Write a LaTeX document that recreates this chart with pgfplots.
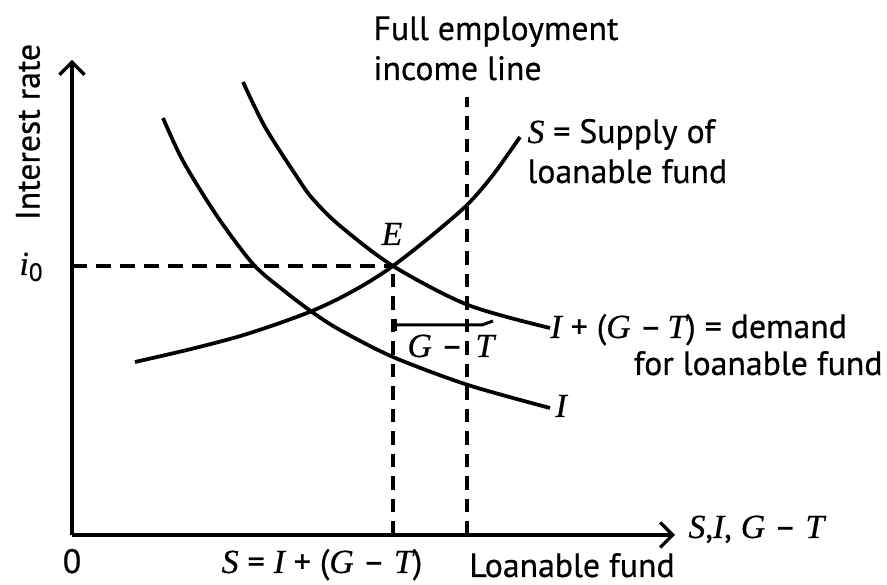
\documentclass[border=0pt]{standalone}
\usepackage{pgfplots}
\pgfplotsset{compat=1.18}
\usetikzlibrary{arrows.meta}
\usepackage{fontspec}
\setmainfont{PT Sans}[UprightFeatures={FakeBold=0.6}]
\newfontfamily\serif{Liberation Serif}[ItalicFeatures={FakeBold=0.6}]
\newcommand{\vi}[1]{{\serif\itshape #1}}
\tikzset{lbl/.style={font=\fontsize{13.5}{16}\selectfont, inner sep=0pt, text=black}}
\begin{document}
\begin{tikzpicture}
\begin{axis}[
 x=0.4pt, y=0.4pt,
 xmin=0, xmax=603, ymin=0, ymax=475,
 axis lines=left,
 axis line style={line width=1.5pt, -{Straight Barb[length=5pt,width=10pt,line width=1.3pt]}},
 xtick=\empty, ytick=\empty,
 clip=false,
]
% invisible frame for the page size
\path (axis cs:-72,-50) rectangle (axis cs:815,535);
% dashed guide lines
\addplot[line width=1.3pt, dash pattern=on 6pt off 3.6pt] coordinates {(0,269) (321,269)};
\addplot[line width=1.3pt, dash pattern=on 5.5pt off 3.5pt] coordinates {(321,0) (321,269)};
\addplot[line width=1.3pt, dash pattern=on 5.5pt off 3.5pt] coordinates {(395,0) (395,438)};
% I curve
\addplot[smooth, line width=1.5pt] coordinates {(91,417) (111,374) (145,319) (181,271) (211,245) (240,223) (268,205) (321,178) (396,150) (478,127)};
% I + (G - T) curve
\addplot[smooth, line width=1.5pt] coordinates {(171,453) (193,408) (225,358) (240,337) (267,310) (321,269) (396,230) (478,207)};
% S curve
\addplot[smooth, line width=1.5pt] coordinates {(63,173) (115,185) (165,198) (205,211) (240,224) (268,237) (295,252) (321,269) (358,298) (395,330) (421,360) (448,398)};
% G - T bracket
\addplot[line width=1.2pt] coordinates {(323,210) (410,210) (421,214)};
\addplot[line width=1.2pt] coordinates {(323,204) (323,216)};
% labels
\node[lbl, rotate=90] at (axis cs:-44,403) {Interest rate};
\node[lbl, anchor=base] at (axis cs:-41,260) {\vi{i}\raisebox{-0.35ex}{\fontsize{10}{10}\selectfont 0}};
\node[lbl, anchor=base] at (axis cs:0,-38) {0};
\node[lbl, anchor=base] at (axis cs:250,-38) {\vi{S} = \vi{I} + (\vi{G} – \vi{T})};
\node[lbl, anchor=base] at (axis cs:500,-42) {Loanable fund};
\node[lbl, anchor=base west] at (axis cs:616,-3) {\vi{S},\vi{I}, \vi{G} – \vi{T}};
\node[lbl, anchor=base west] at (axis cs:301,495) {Full employment};
\node[lbl, anchor=base west] at (axis cs:301,455) {income line};
\node[lbl, anchor=base west] at (axis cs:455,392) {\vi{S} = Supply of};
\node[lbl, anchor=base west] at (axis cs:455,352) {loanable fund};
\node[lbl, anchor=base] at (axis cs:320,290) {\vi{E}};
\node[lbl, anchor=base west] at (axis cs:478,197) {\vi{I} + (\vi{G} –\,\vi{T}) = demand};
\node[lbl, anchor=base east] at (axis cs:811,160) {for loanable fund};
\node[lbl, anchor=base west] at (axis cs:483,118) {\vi{I}};
\node[lbl, anchor=base west] at (axis cs:335,178) {\vi{G} –};
\node[lbl, anchor=base west] at (axis cs:403,178) {\vi{T}};
\end{axis}
\end{tikzpicture}
\end{document}
